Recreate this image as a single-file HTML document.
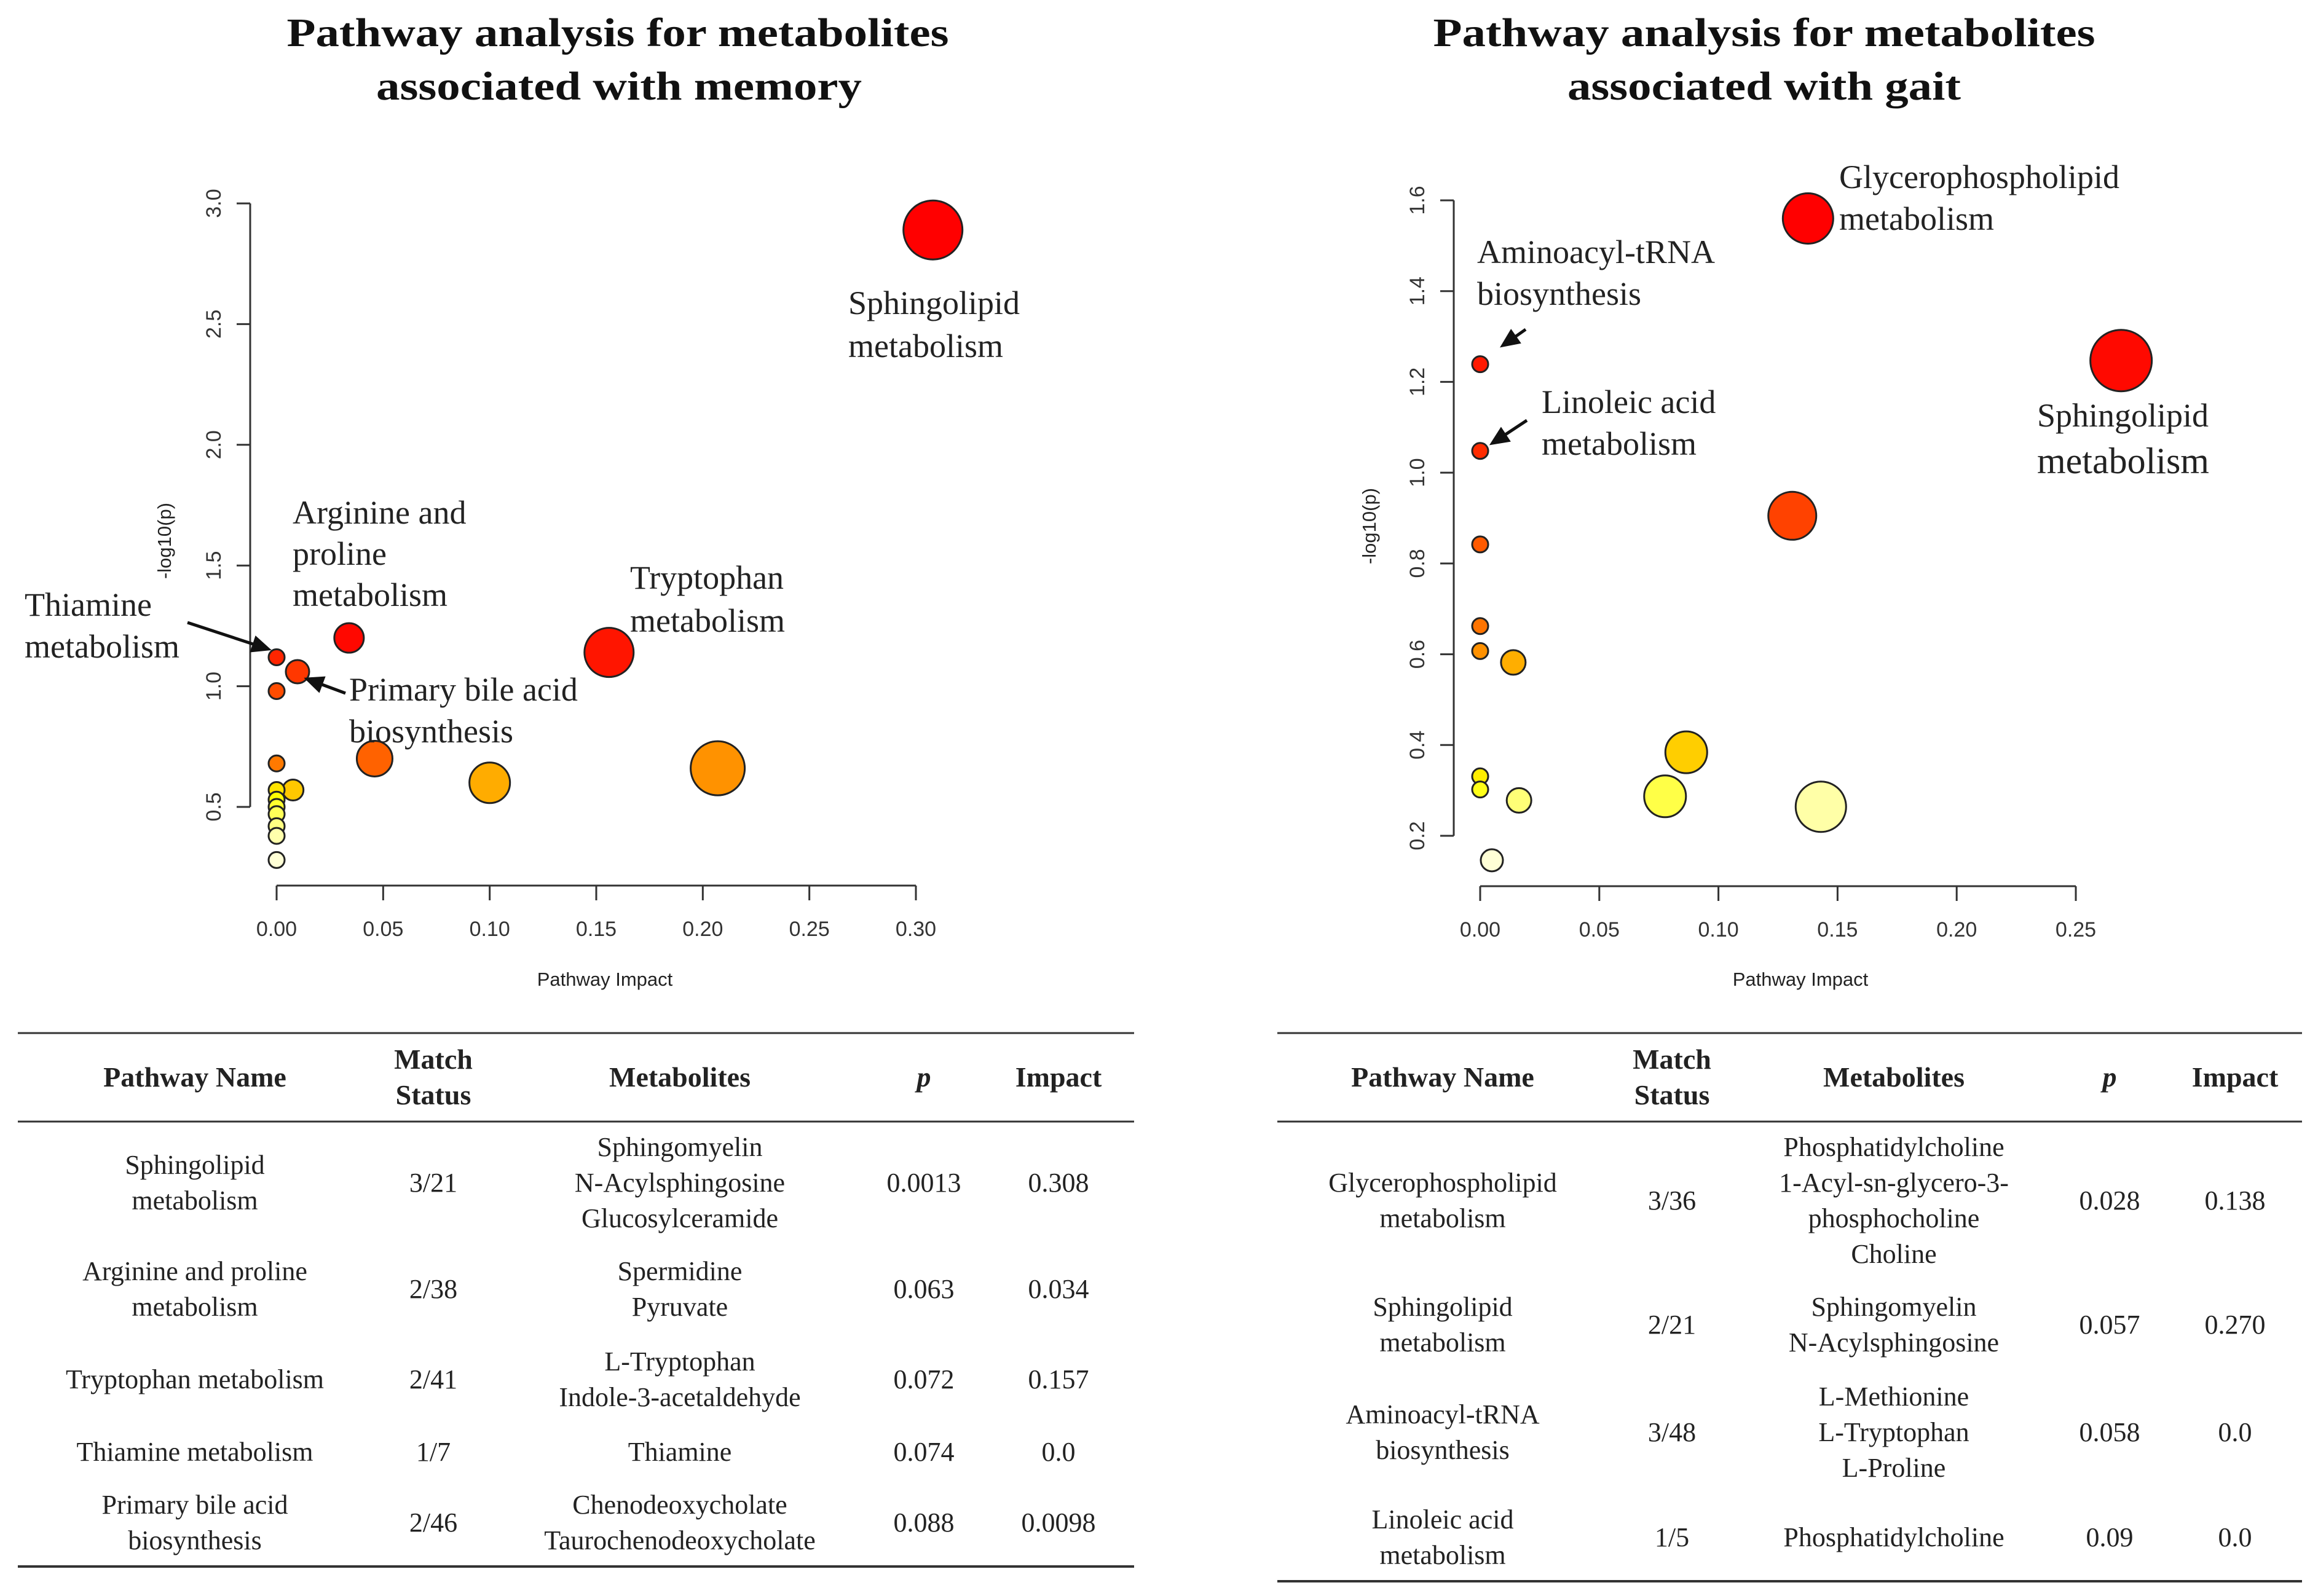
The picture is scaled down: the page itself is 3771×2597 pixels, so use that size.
<!DOCTYPE html>
<html><head><meta charset="utf-8">
<style>
html,body{margin:0;padding:0;background:#fff;}
svg{display:block;}
.serif{font-family:"Liberation Serif",serif;}
.sans{font-family:"Liberation Sans",sans-serif;}
</style></head>
<body>
<svg id="root" width="3771" height="2597" viewBox="0 0 3771 2597" xmlns="http://www.w3.org/2000/svg">
<rect width="3771" height="2597" fill="#fff"/>
<g class="serif" font-weight="bold" font-size="66" fill="#111" text-anchor="middle">
<text x="1005" y="75" textLength="1077" lengthAdjust="spacingAndGlyphs">Pathway analysis for metabolites</text>
<text x="1007" y="162" textLength="790" lengthAdjust="spacingAndGlyphs">associated with memory</text>
<text x="2870" y="75" textLength="1077" lengthAdjust="spacingAndGlyphs">Pathway analysis for metabolites</text>
<text x="2870" y="162" textLength="640" lengthAdjust="spacingAndGlyphs">associated with gait</text>
</g>
<g id="charts"></g>
<g id="tables"></g>
</svg>
<script>
// ---- Memory chart data ----
const memImpact = [0.308,0.034,0.156,0,0.0098,0,0.046,0,0.207,0.10,0.0077,0,0,0,0,0,0,0];
const memLogP   = [2.89,1.20,1.14,1.12,1.06,0.98,0.70,0.68,0.66,0.60,0.57,0.57,0.53,0.50,0.47,0.42,0.38,0.28];
const memSize   = [48,24,40,13,19,13,29,13,44,33,17,13,13,13,13,13,13,13];
const memXTicks = [0,0.05,0.10,0.15,0.20,0.25,0.30];
const memXLabels= ["0.00","0.05","0.10","0.15","0.20","0.25","0.30"];
const memYTicks = [0.5,1.0,1.5,2.0,2.5,3.0];
const memYLabels= ["0.5","1.0","1.5","2.0","2.5","3.0"];
// ---- Gait chart data ----
const gaitImpact = [0.1376,0.269,0,0,0.131,0,0,0,0.0139,0.0865,0,0,0.0776,0.0163,0.143,0.0049];
const gaitLogP   = [1.56,1.247,1.239,1.048,0.905,0.842,0.662,0.607,0.582,0.384,0.331,0.302,0.287,0.278,0.264,0.146];
const gaitSize   = [41,50,13,13,39,13,13,13,20,34,13,13,34,20,41,18];
const gaitXTicks = [0,0.05,0.10,0.15,0.20,0.25];
const gaitXLabels= ["0.00","0.05","0.10","0.15","0.20","0.25"];
const gaitYTicks = [0.2,0.4,0.6,0.8,1.0,1.2,1.4,1.6];
const gaitYLabels= ["0.2","0.4","0.6","0.8","1.0","1.2","1.4","1.6"];

const NS="http://www.w3.org/2000/svg";
function mk(tag,attrs,parent,txt){const e=document.createElementNS(NS,tag);for(const k in attrs)e.setAttribute(k,attrs[k]);if(txt!==undefined)e.textContent=txt;parent.appendChild(e);return e;}
function heat(t){ // t 0 (most significant) ..1
  if(t<0.7){const h=60*Math.pow(t/0.7,1.4);return `hsl(${h},100%,50%)`;}
  const u=(t-0.7)/0.3;return `hsl(60,100%,${50+u*42}%)`;
}
const charts=document.getElementById('charts');

function drawChart(cfg){
  const g=mk('g',{},charts);
  
  
  const sx=v=>cfg.x0+(v-cfg.xmin)*(cfg.x1-cfg.x0)/(cfg.xmax-cfg.xmin);
  const sy=v=>cfg.y0+(v-cfg.ymin)*(cfg.y1-cfg.y0)/(cfg.ymax-cfg.ymin);
  const xa=mk('path',{d:`M${sx(cfg.xt[0])} ${cfg.axY}H${sx(cfg.xt[cfg.xt.length-1])}`,stroke:'#333','stroke-width':3,fill:'none'},g);
  
  
  cfg.xt.forEach((v,i)=>{
    const t=mk('line',{x1:sx(v),x2:sx(v),y1:cfg.axY,y2:cfg.axY+24,stroke:'#333','stroke-width':3},g);
    
    
    const l=mk('text',{x:sx(v),y:cfg.axY+82,'text-anchor':'middle','font-size':34,fill:'#333',class:'sans'},g,cfg.xl[i]);
    
    
  });
  const ya=mk('path',{d:`M${cfg.axX} ${sy(cfg.yt[0])}V${sy(cfg.yt[cfg.yt.length-1])}`,stroke:'#333','stroke-width':3,fill:'none'},g);
  
  
  cfg.yt.forEach((v,i)=>{
    const t=mk('line',{x1:cfg.axX-22,x2:cfg.axX,y1:sy(v),y2:sy(v),stroke:'#333','stroke-width':3},g);
    
    
    const l=mk('text',{x:0,y:0,transform:`translate(${cfg.axX-48},${sy(v)}) rotate(-90)`,'text-anchor':'middle','font-size':34,fill:'#333',class:'sans'},g,cfg.yl[i]);
    
    
  });
  const xt=mk('text',{x:cfg.xtx,y:cfg.xty,'text-anchor':'middle','font-size':31,fill:'#222',class:'sans'},g,'Pathway Impact');
  
  
  const yt=mk('text',{x:0,y:0,transform:`translate(${cfg.ytx},${cfg.yty}) rotate(-90)`,'text-anchor':'middle','font-size':31,fill:'#222',class:'sans'},g,'-log10(p)');
  
  
  const order=cfg.ly.map((v,i)=>i).sort((a,b)=>cfg.ly[b]-cfg.ly[a]);
  const rank=[];order.forEach((idx,r)=>rank[idx]=r);
  const n=cfg.ly.length;
  const idxs=cfg.ix.map((v,i)=>i).sort((a,b)=>cfg.sz[b]-cfg.sz[a]);
  idxs.forEach(i=>{
    const c=mk('circle',{cx:sx(cfg.ix[i]),cy:sy(cfg.ly[i]),r:cfg.sz[i],fill:heat(rank[i]/(n-1)),stroke:'#222','stroke-width':3},g);
    
    
  });
  return g;
}
const gm=drawChart({name:'memory-pathway-chart',xmin:0,xmax:0.30,x0:450,x1:1490,ymin:0.5,ymax:3.0,y0:1313,y1:331,axX:407,axY:1441,
  xt:memXTicks,xl:memXLabels,yt:memYTicks,yl:memYLabels,ix:memImpact,ly:memLogP,sz:memSize,xtx:984,xty:1604,ytx:278,yty:880});
const gg=drawChart({name:'gait-pathway-chart',xmin:0,xmax:0.25,x0:2408,x1:3377,ymin:0.2,ymax:1.6,y0:1360,y1:326,axX:2365,axY:1442,
  xt:gaitXTicks,xl:gaitXLabels,yt:gaitYTicks,yl:gaitYLabels,ix:gaitImpact,ly:gaitLogP,sz:gaitSize,xtx:2929,xty:1604,ytx:2238,yty:856});

function annot(parent,name,x,y,lines,size,lh){
  const t=mk('text',{x:x,y:y,'font-size':size,fill:'#222',class:'serif'},parent);
  
  
  lines.forEach((s,i)=>mk('tspan',{x:x,dy:i?lh:0},t,s));
}
function arrow(parent,name,x1,y1,x2,y2){
  const a=Math.atan2(y2-y1,x2-x1),L=26,w=0.42;
  const p=mk('path',{d:`M${x1} ${y1}L${x2-Math.cos(a)*10} ${y2-Math.sin(a)*10}M${x2} ${y2}L${x2-L*Math.cos(a-w)} ${y2-L*Math.sin(a-w)}L${x2-L*Math.cos(a+w)} ${y2-L*Math.sin(a+w)}Z`,stroke:'#111','stroke-width':5,fill:'#111'},parent);
  
  
}
annot(gm,'label-sphingolipid',1380,511,['Sphingolipid','metabolism'],54,70);
annot(gm,'label-arginine-proline',476,852,['Arginine and','proline','metabolism'],54,67);
annot(gm,'label-tryptophan',1025,958,['Tryptophan','metabolism'],54,70);
annot(gm,'label-thiamine',40,1002,['Thiamine','metabolism'],54,68);
annot(gm,'label-primary-bile-acid',568,1140,['Primary bile acid','biosynthesis'],54,68);
arrow(gm,'arrow-thiamine',305,1013,436,1056);
arrow(gm,'arrow-primary-bile-acid',562,1128,500,1105);
annot(gg,'label-glycerophospholipid',2992,306,['Glycerophospholipid','metabolism'],54,68);
annot(gg,'label-aminoacyl-trna',2403,428,['Aminoacyl-tRNA','biosynthesis'],54,68);
annot(gg,'label-linoleic-acid',2508,672,['Linoleic acid','metabolism'],54,68);
annot(gg,'label-sphingolipid-gait',3314,694,['Sphingolipid'],54,0);
annot(gg,'label-sphingolipid-gait-2',3314,770,['metabolism'],60,0);
arrow(gg,'arrow-aminoacyl',2482,536,2445,562);
arrow(gg,'arrow-linoleic',2484,684,2428,721);

const tables=document.getElementById('tables');
function tcell(parent,name,cx,cy,lines,bold,italic){
  const lh=58,n=lines.length,top=cy-(n-1)*lh/2+15;
  const t=mk('text',{x:cx,y:top,'text-anchor':'middle','font-size':bold?46:44,fill:'#222',class:'serif','font-weight':bold?'bold':'normal','font-style':italic?'italic':'normal'},parent);
  
  
  lines.forEach((s,i)=>mk('tspan',{x:cx,dy:i?lh:0},t,s));
}
function rule(parent,name,x1,x2,y,w){
  const l=mk('line',{x1:x1,x2:x2,y1:y,y2:y,stroke:'#333','stroke-width':w},parent);
  
  
}
function table(name,x1,x2,cols,rowsY,rows,bottom){
  const g=mk('g',{},tables);
  
  
  rule(g,'table-top-rule',x1,x2,1681,3);
  rule(g,'table-header-rule',x1,x2,1825,3);
  rule(g,'table-bottom-rule',x1,x2,bottom,4);
  const hdr=[['Pathway Name'],['Match','Status'],['Metabolites'],['p'],['Impact']];
  hdr.forEach((h,i)=>tcell(g,'table-header-cell',cols[i],1753,h,true,i===3));
  rows.forEach((r,ri)=>r.forEach((c,ci)=>tcell(g,'table-cell',cols[ci],rowsY[ri],c,false,false)));
}
table('memory-pathway-table',29,1845,[317,705,1106,1503,1722],[1924,2097,2244,2362,2477],[
 [['Sphingolipid','metabolism'],['3/21'],['Sphingomyelin','N-Acylsphingosine','Glucosylceramide'],['0.0013'],['0.308']],
 [['Arginine  and proline','metabolism'],['2/38'],['Spermidine','Pyruvate'],['0.063'],['0.034']],
 [['Tryptophan  metabolism'],['2/41'],['L-Tryptophan','Indole-3-acetaldehyde'],['0.072'],['0.157']],
 [['Thiamine  metabolism'],['1/7'],['Thiamine'],['0.074'],['0.0']],
 [['Primary bile acid','biosynthesis'],['2/46'],['Chenodeoxycholate','Taurochenodeoxycholate'],['0.088'],['0.0098']]
],2549);
table('gait-pathway-table',2078,3745,[2347,2720,3081,3432,3636],[1953,2155,2330,2501],[
 [['Glycerophospholipid','metabolism'],['3/36'],['Phosphatidylcholine','1-Acyl-sn-glycero-3-','phosphocholine','Choline'],['0.028'],['0.138']],
 [['Sphingolipid','metabolism'],['2/21'],['Sphingomyelin','N-Acylsphingosine'],['0.057'],['0.270']],
 [['Aminoacyl-tRNA','biosynthesis'],['3/48'],['L-Methionine','L-Tryptophan','L-Proline'],['0.058'],['0.0']],
 [['Linoleic  acid','metabolism'],['1/5'],['Phosphatidylcholine'],['0.09'],['0.0']]
],2573);
</script>
</body></html>
